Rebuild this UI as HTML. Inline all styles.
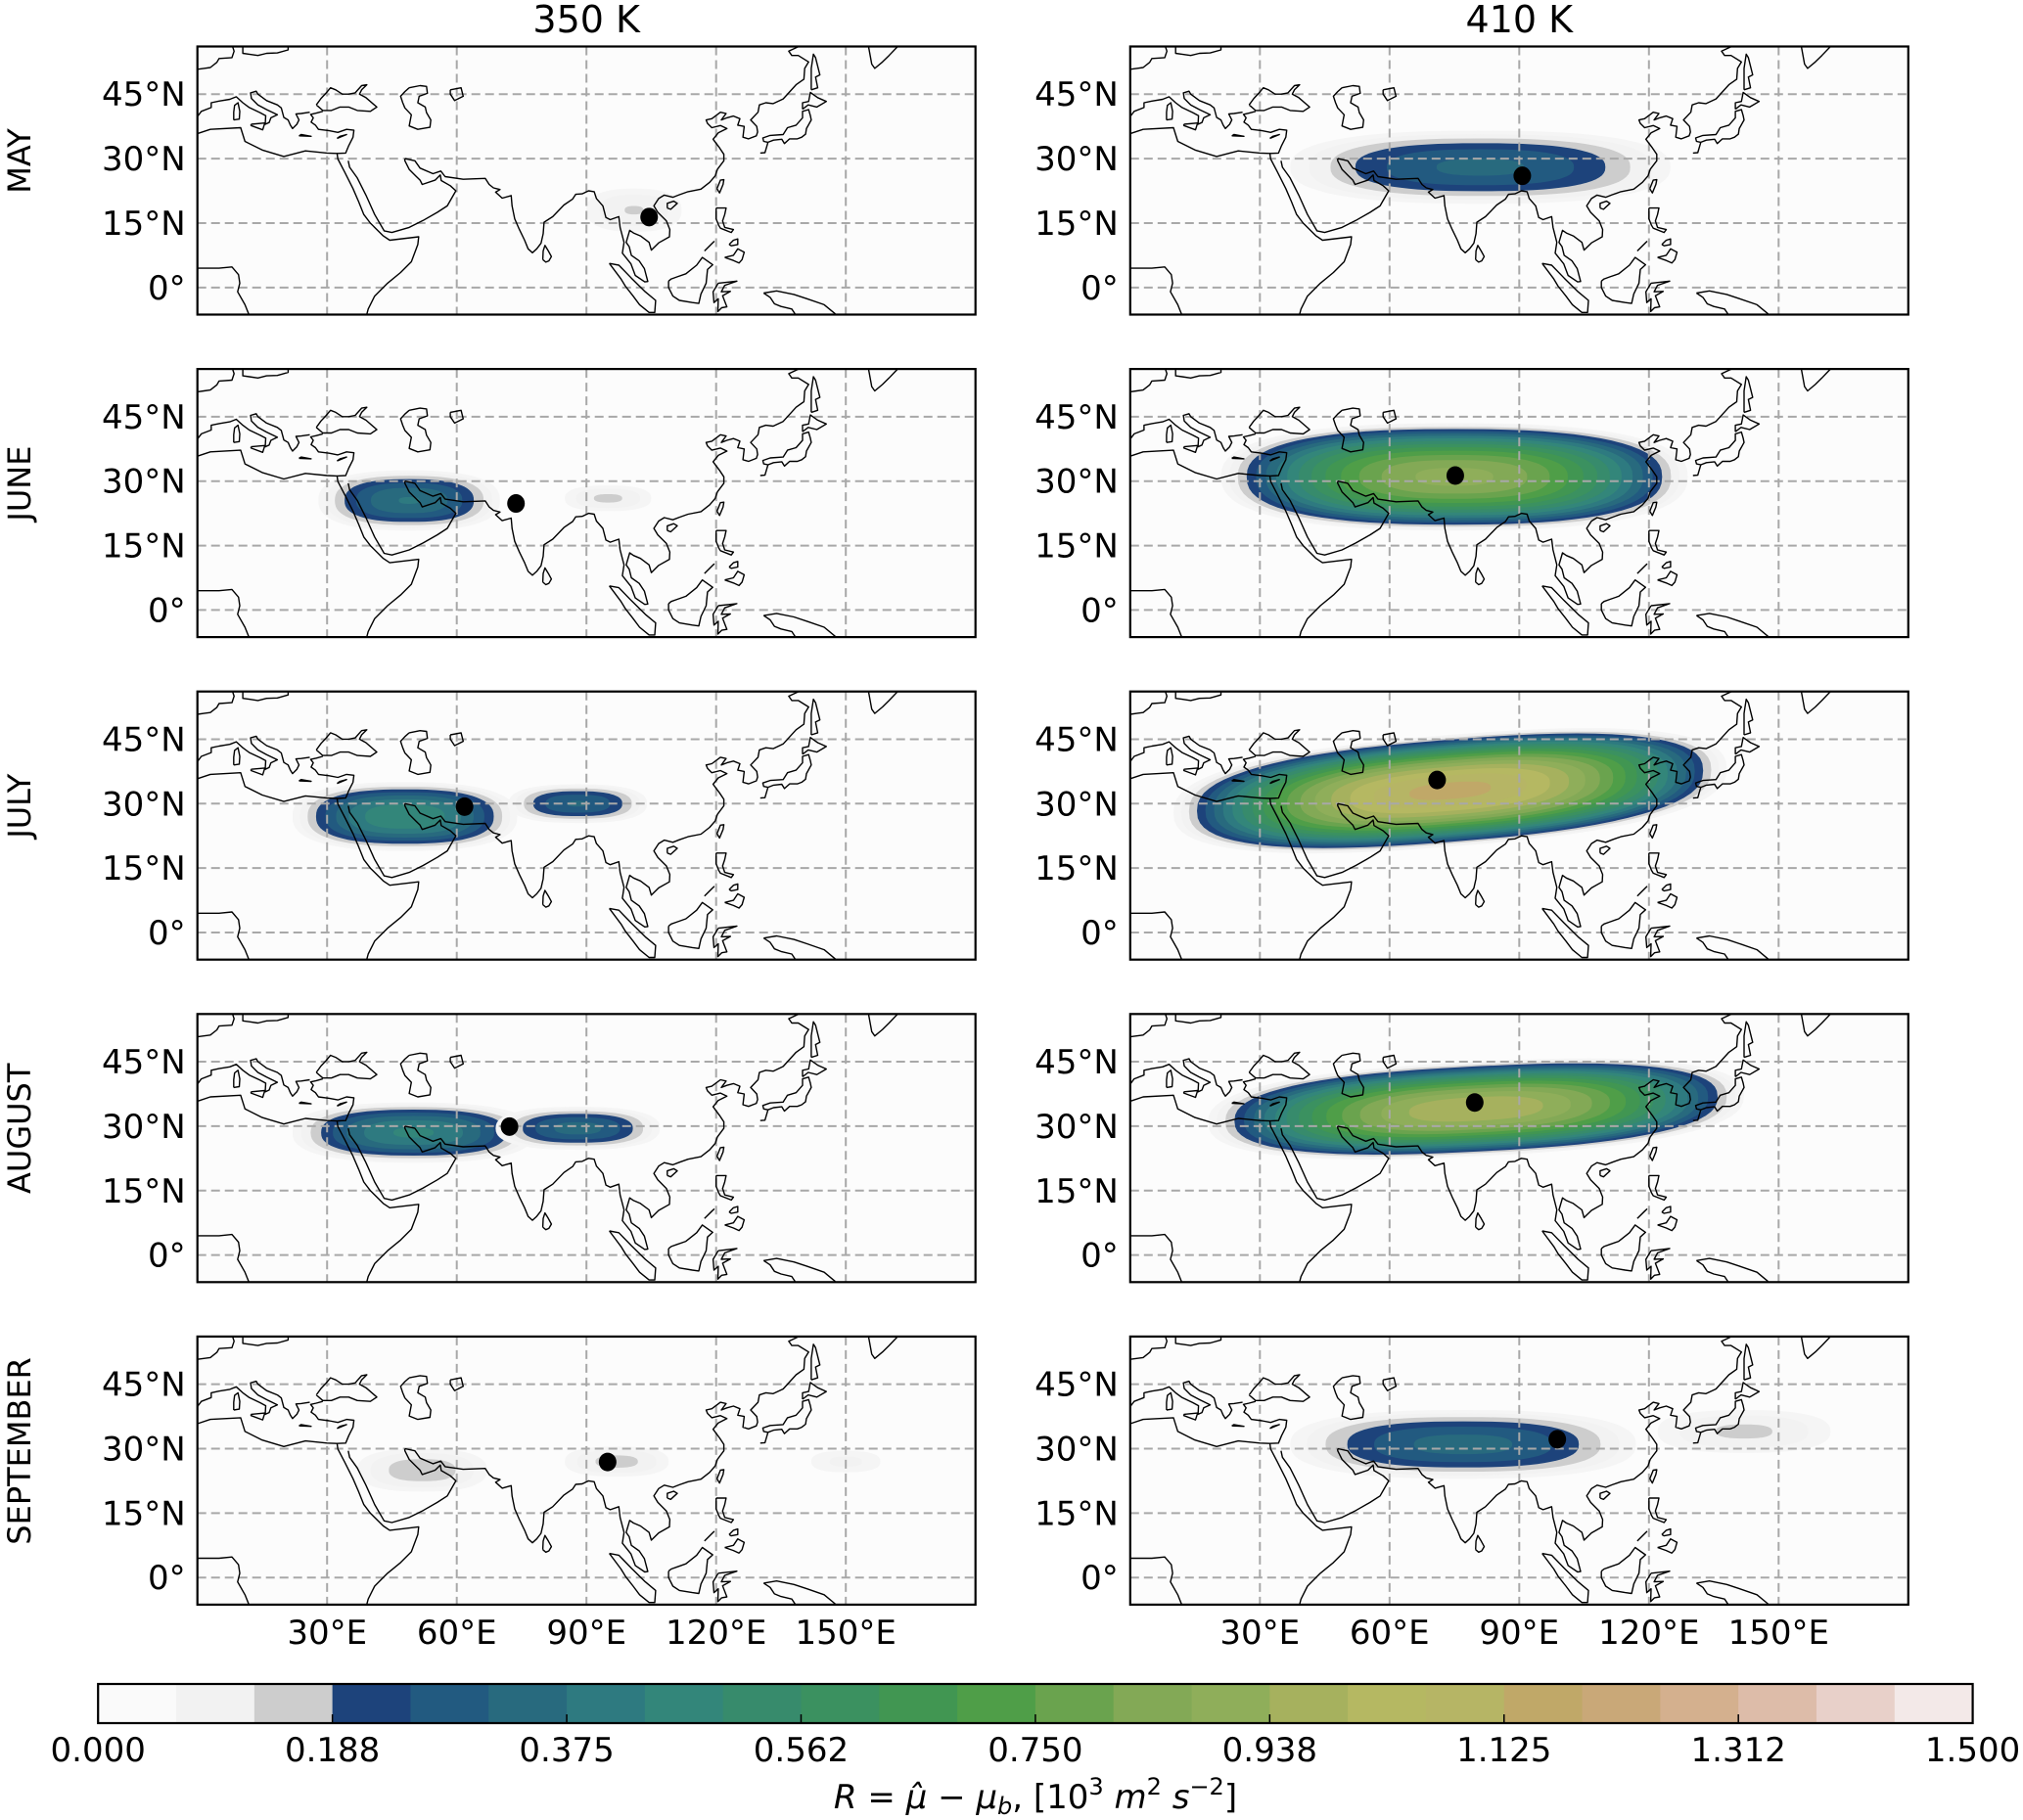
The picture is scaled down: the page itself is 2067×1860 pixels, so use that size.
<!DOCTYPE html>
<html><head><meta charset="utf-8">
<style>
html,body{margin:0;padding:0;background:#fff;}
svg{display:block;font-family:"DejaVu Sans","Liberation Sans",sans-serif;}
</style></head>
<body>
<svg id="fig" width="2067" height="1860" viewBox="0 0 2067 1860" xmlns="http://www.w3.org/2000/svg"></svg>
<script>
// ---- data ----
const months = ["MAY","JUNE","JULY","AUGUST","SEPTEMBER"];
const levels = ["350 K","410 K"];
const xTickLons = [30,60,90,120,150];
const xTickLabels = ["30°E","60°E","90°E","120°E","150°E"];
const yTickLats = [0,15,30,45];
const yTickLabels = ["0°","15°N","30°N","45°N"];
const cbTicks = ["0.000","0.188","0.375","0.562","0.750","0.938","1.125","1.312","1.500"];
const cbColors = ["#fafafa","#f2f2f2","#cdcdcd","#1d437b","#225a80","#286a7e","#2e7a80","#33867a","#378b6c","#3b9160","#419652","#4f9e48","#6aa34e","#83a956","#8fae5a","#a6b15e","#b5b862","#b6b565","#c0a868","#c9a878","#d4b08e","#ddbca9","#e8d0c9","#f3e9e8"];
// blobs per panel: [lon, lat, rLon, rLat, peak, slope(lat per lon)]
const blobs350 = [
 [[101,18,11,5,0.13,0]],
 [[49,25.5,21,7,0.38,0],[95,26,10,3,0.14,0]],
 [[48,27,26,8,0.5,0],[88,30,16,4.5,0.32,0]],
 [[50,28.5,28,7,0.45,0],[88,29.5,19,5,0.34,0]],
 [[52,25,15,5,0.17,0],[97,27,12,3.5,0.15,0],[150,27,8,2.5,0.08,0]]
];
const blobs410 = [
 [[81,28,44,8.5,0.33,0]],
 [[75,31,54,12.5,0.9,0]],
 [[74,33,64,13,1.15,0.08]],
 [[80,34,62,11,1.0,0.05]],
 [[77,31,40,8,0.34,0],[142,34,20,5,0.14,0]]
];
const dots350 = [[104.5,16.4],[73.7,24.8],[61.8,29.3],[72.2,29.9],[94.9,26.9]];
const dots410 = [[90.7,26],[75.2,31.3],[71,35.5],[79.7,35.5],[98.8,32.2]];

const coasts = [
 [[0,35.8],[3,36.8],[10,37.2],[11,34],[15,32],[20,30.5],[25,31.8],[30,31.3],[32.3,31.2],[32.5,29.9],[34,27],[36,23],[37.3,20],[38.5,17],[40,15],[43,12],[44.5,11],[51.2,11.8],[51,10],[49.5,6],[47,3.5],[44,1],[41,-2],[39.5,-5],[39,-7]],
 [[0,4.5],[5,4.5],[8,4.8],[9.5,3],[9.8,1],[9.3,-1],[11,-4],[12,-6.5]],
 [[32.3,31.2],[34.3,31.3],[35,33],[36,35],[36.2,36.6],[34.5,36.8],[32.5,36.1],[30.5,36.5],[28,36.8],[27.3,37.8],[26.3,38.5],[26.8,39.5],[26.2,40.3],[27.5,40.6],[29,41]],
 [[34.9,29.5],[35.2,28],[37,25.5],[39,21.5],[41,17],[43.2,13.2],[45,12.8],[49,14],[52.2,15.6],[55.5,17.5],[57.8,19],[59.8,22.5],[58.5,23.7],[56.4,24.9],[56.2,26.2],[55,25],[52,24],[51.5,25],[50.5,26],[49,27.5],[48,29.5],[48,30]],
 [[48,30],[50.3,29.5],[51.5,27.8],[54.5,26.5],[56.3,27.1],[57.3,25.8],[61.5,25.2],[66.6,25.4],[67.5,24],[68.5,23.2],[70,22.8],[69,22.2],[70.5,20.8],[72.6,21.4],[72.8,19],[73.4,16],[74.5,13.5],[75.7,11],[76.5,9],[77.5,8.1],[78.5,9],[79.5,10.3],[80,12.5],[80.2,15.2],[82.2,16.5],[84.8,19.2],[86.8,20.6],[87.5,21.7],[89,21.8],[90.5,22.5],[91.8,22.3],[92.3,20.7],[93.8,19],[94.5,16.3],[95.5,15.8],[97.5,16.5],[97.8,14],[98.7,10.5],[98.3,8],[100.3,5.5],[101.3,2.8],[103.5,1.3],[104.2,1.4],[103.4,4.4],[102.2,6.2],[100.4,7.5],[99.9,9.5],[99.2,10.5],[100,13.3],[100.9,12.7],[102.5,12],[104.5,10.5],[105,8.7],[106.7,10.4],[109.2,11.8],[109.3,13.5],[108.5,15.5],[106.5,17.5],[105.6,19],[106.7,20.7],[108,21.5],[110,21],[111.5,21.6],[113.5,22.3],[116.5,22.9],[118.5,24.5],[119.8,26],[120.3,27.5],[121.8,29.5],[121.8,31],[120.8,32.5],[119.3,34.5],[120.5,36],[122.5,37],[121,37.7],[119,37.2],[118,38.2],[117.7,39],[119,39.3],[121,40.8],[122.3,40.5],[121.2,39],[122.5,39.5],[124,39.9],[125.5,39.3],[125,37.8],[126.5,37.5],[126.2,35],[127.5,34.6],[129.3,35.3],[129.6,36.2],[129.4,37.5],[128,39],[129.7,40.8],[130,42.5],[131.5,43],[133.2,42.8],[135.5,43.9],[138.5,47.2],[140.3,48.5],[140.5,51],[141.4,52.5],[139,54],[137.5,54],[136.8,55],[140,56.5]],
 [[155,57.5],[156,52],[156.7,51],[158.5,52.5],[160,54],[162,56.1]],
 [[79.9,6.5],[80,8.5],[80.4,9.8],[81.2,8.5],[81.9,7.2],[81.3,6.2],[80.6,5.9],[79.9,6.5]],
 [[108.7,18.5],[109.5,18.2],[111,19.6],[110.2,20.1],[108.7,19.6],[108.7,18.5]],
 [[120.2,23],[120.8,22],[121.6,24],[121.8,25.1],[121,25],[120.2,23]],
 [[130.2,31.3],[131.3,31.4],[132,33.8],[131,34],[130.8,34.8],[132.5,35.4],[135.5,35.6],[136.5,37.2],[138.5,37.8],[140,39.5],[140,41],[141.4,41.4],[141.8,40],[142,39],[140.9,37],[140.7,35.7],[139.8,35],[138.8,34.6],[137,34.6],[135.8,33.5],[135.2,34.5],[133.3,34.3],[132,33.8]],
 [[140,41.5],[140,43],[141.4,43.3],[141.8,45.4],[143.5,44.2],[145.5,43.3],[143.3,42],[141.3,42.5],[140,41.5]],
 [[142,46],[143.5,46.5],[143,49],[144,49.5],[143,53.5],[142.5,54.3],[142,51],[142,46]],
 [[120,18.5],[122.3,18.5],[122,17],[121.5,15.5],[122,14],[124,13.5],[123.5,12.8],[121,13.8],[120.6,14.5],[120,16],[120,18.5]],
 [[122,7],[124,7.5],[125,9],[126.5,8.2],[126,6.5],[125.3,5.7],[124,6.3],[122,7]],
 [[123,10],[124,11],[125,11.3],[125,10],[123.5,9.7],[123,10]],
 [[117.3,8.5],[119.5,10.7],[119,10.2],[117.3,8.5]],
 [[109,1.5],[109.6,2],[111,2.5],[113,3.2],[115.5,5.2],[116.8,7],[119.2,5.3],[118,4.2],[117.7,1],[116.5,-1.5],[116,-3.7],[114.5,-3.5],[111.5,-3],[110,-2],[109,0],[109,1.5]],
 [[95.3,5.6],[97.5,5.2],[100.4,2.2],[103.6,-1],[106,-3],[105.8,-5.8],[104.5,-5.8],[102.3,-4],[100.8,-2],[99,0.3],[98,2],[95.3,5.6]],
 [[120.5,1],[124.8,1.5],[122,0.5],[121.2,-1],[123.3,-0.9],[121.5,-1.9],[122.5,-4.5],[121.3,-4.7],[120.4,-5.6],[120.5,-2.6],[119.5,-3.5],[119.3,-1],[120.5,1]],
 [[105.3,-6.8],[108,-6.4],[111,-6.5],[114.5,-7.7]],
 [[131,-1.3],[134,-0.8],[138,-1.6],[141,-2.6],[145,-4],[147.5,-6.1],[147,-6.8]],
 [[131,-1.3],[132.5,-2.3],[133.5,-3.8],[135,-4.4],[137.5,-5],[138.5,-6.5]],
 [[27.5,42.5],[28.6,44],[29.7,45.2],[30.8,46.5],[32,46],[33.5,45],[35,45],[36.5,45.3],[38,47],[39.2,47.2],[38,46],[37.5,45],[39,44.2],[41.5,42],[40,41],[37,41.2],[35,42],[33,42],[31,41.2],[29,41.2],[27.5,42.5]],
 [[49,46.5],[51.5,47],[53,46.8],[53.2,45.2],[51.3,44.5],[51,43],[52.7,42],[53,40.7],[54,39],[53.8,37.3],[51,36.8],[49,37.6],[49.5,40.2],[48,41.8],[47.5,43],[47,44.5],[48,45.6],[49,46.5]],
 [[58.5,46],[61,46.5],[61.5,44.5],[59.5,43.5],[58.5,45],[58.5,46]],
 [[26,40.8],[24,40.5],[22.8,40.4],[23.5,39],[23,38],[22,37],[21.5,37.8],[21,39],[20,39.6],[19.4,41.8],[18.5,42.5],[16,43.5],[14,45],[13.6,45.7],[12.3,45.3],[12.5,44],[14,42.5],[16,41.4],[18.5,40.2],[17,39.5],[16.6,38.4],[15.7,38],[15.8,40],[14.5,40.7],[12,41.9],[10.5,43],[9,44.4],[7.5,43.8],[5,43.4],[3.2,43],[3.2,41.9],[0.9,41],[0,39.8]],
 [[12.4,38],[15.6,38.3],[15.1,36.7],[12.4,37.7],[12.4,38]],
 [[8.4,39],[9.7,39.2],[9.8,41],[9.4,43],[8.6,42.4],[8.4,40.8],[8.4,39]],
 [[23.5,35.3],[26.3,35.2],[24,35.6],[23.5,35.3]],
 [[32.3,34.7],[34.5,35.6],[33,35.2],[32.3,34.7]],
 [[0,50.8],[1.5,51],[3,51.2],[4.5,52.4],[5,53.3],[8,53.5],[8.5,55],[8,56.5]],
 [[10.5,56.5],[10.5,54.5],[12,54.3],[14,54],[16,54.5],[18.5,54.6],[21,55.3],[21,56.5]]
];

// ---- layout ----
const NS = "http://www.w3.org/2000/svg";
const svg = document.getElementById("fig");
const colX = [201.7, 1154.8], PW = 795, PH = 274;
const rowY = [47.5, 377.1, 706.7, 1036.3, 1365.9];
const LAT_TOP = 56.1, LAT_RANGE = 62.4;
function mk(tag, attrs, parent){ const e=document.createElementNS(NS,tag); for(const k in attrs) e.setAttribute(k,attrs[k]); (parent||svg).appendChild(e); return e; }
function xScale(c, lon){ return colX[c] + lon/180*PW; }
function yScale(r, lat){ return rowY[r] + (LAT_TOP-lat)/LAT_RANGE*PH; }
const step = 1.5/cbColors.length;
const SE_N = 2.5;
function blobPath(c, r, lon, lat, rl, rt, slope){
  let d = "";
  for (let k=0;k<=72;k++){
    const a = k/72*2*Math.PI;
    const ca = Math.cos(a), sa = Math.sin(a);
    const dx = rl*Math.sign(ca)*Math.pow(Math.abs(ca),2/SE_N);
    const dy = rt*Math.sign(sa)*Math.pow(Math.abs(sa),2/SE_N);
    const X = xScale(c, lon+dx), Y = yScale(r, lat+dy+slope*dx);
    d += (k===0?"M":"L")+X.toFixed(1)+","+Y.toFixed(1);
  }
  return d+"Z";
}

const defs = mk("defs",{});
for (let c=0;c<2;c++){
  const t = mk("text",{x:colX[c]+PW/2, y:33, "text-anchor":"middle","font-size":38,fill:"#000"});
  t.textContent = levels[c];
  
  
  for (let r=0;r<5;r++){
    const id = "clip"+c+"_"+r;
    const cp = mk("clipPath",{id:id},defs);
    mk("rect",{x:colX[c],y:rowY[r],width:PW,height:PH},cp);
    const g = mk("g",{"clip-path":"url(#"+id+")"});
    
    
    mk("rect",{x:colX[c],y:rowY[r],width:PW,height:PH,fill:"#fcfcfc"},g);
    const bl = (c===0?blobs350:blobs410)[r];
    bl.forEach(b=>{
      const [lon,lat,rl,rt,peak,slope] = b;
      for (let i=0;i<cbColors.length;i++){
        const t0 = i*step;
        if (t0 >= peak) break;
        const f = Math.sqrt(1 - t0/peak);
        const fillCol = (i===0) ? "#f5f5f5" : cbColors[i];
        const e = mk("path",{d:blobPath(c,r,lon,lat,rl*f,rt*f,slope),fill:fillCol},g);
        
        
      }
    });
    xTickLons.forEach(lon=>{ mk("line",{x1:xScale(c,lon),x2:xScale(c,lon),y1:rowY[r],y2:rowY[r]+PH,stroke:"#a8a8a8","stroke-width":2,"stroke-dasharray":"9,5"},g); });
    yTickLats.forEach(lat=>{ mk("line",{x1:colX[c],x2:colX[c]+PW,y1:yScale(r,lat),y2:yScale(r,lat),stroke:"#a8a8a8","stroke-width":2,"stroke-dasharray":"9,5"},g); });
    coasts.forEach(pl=>{
      const pts = pl.map(p=>xScale(c,p[0]).toFixed(1)+","+yScale(r,p[1]).toFixed(1)).join(" ");
      mk("polyline",{points:pts,fill:"none",stroke:"#000","stroke-width":1.4,"stroke-linejoin":"round"},g);
    });
    const d = (c===0?dots350:dots410)[r];
    const dot = mk("ellipse",{cx:xScale(c,d[0]),cy:yScale(r,d[1]),rx:9,ry:9.5,fill:"#000"},g);
    
    
    const fr = mk("rect",{x:colX[c],y:rowY[r],width:PW,height:PH,fill:"none",stroke:"#000","stroke-width":2.2});
    
    
    yTickLats.forEach((lat,i)=>{
      const tl = mk("text",{x:colX[c]-12,y:yScale(r,lat)+12,"text-anchor":"end","font-size":34,fill:"#000"});
      tl.textContent = yTickLabels[i];
      
      
    });
    if (c===0){
      const cy = rowY[r]+PH/2 - 20;
      const rl = mk("text",{x:0,y:0,"text-anchor":"middle","font-size":32,fill:"#000",transform:"translate(31 "+cy+") rotate(-90)"});
      rl.textContent = months[r];
      
      
    }
  }
  xTickLons.forEach((lon,i)=>{
    const tl = mk("text",{x:xScale(c,lon),y:rowY[4]+PH+40,"text-anchor":"middle","font-size":34,fill:"#000"});
    tl.textContent = xTickLabels[i];
    
    
  });
}

// ---- colorbar ----
const cbX = 100.2, cbW = 1915.4, cbY = 1721, cbH = 40;
const cbg = mk("g",{});


cbColors.forEach((col,i)=>{
  mk("rect",{x:cbX+i*cbW/cbColors.length,y:cbY,width:cbW/cbColors.length+0.6,height:cbH,fill:col},cbg);
});
mk("rect",{x:cbX,y:cbY,width:cbW,height:cbH,fill:"none",stroke:"#000","stroke-width":2.2},cbg);
cbTicks.forEach((lab,i)=>{
  const x = cbX + i*cbW/(cbTicks.length-1);
  mk("line",{x1:x,x2:x,y1:cbY+cbH-9,y2:cbY+cbH,stroke:"#000","stroke-width":1.5},cbg);
  const tl = mk("text",{x:x,y:1800,"text-anchor":"middle","font-size":34,fill:"#000"},cbg);
  tl.textContent = lab;
  
  
});
const cl = mk("text",{x:1058,y:1848,"text-anchor":"middle","font-size":34,fill:"#000"});


cl.innerHTML = '<tspan font-style="italic">R</tspan> = <tspan font-style="italic">μ̂</tspan> − <tspan font-style="italic">μ</tspan><tspan font-style="italic" font-size="24" dy="6">b</tspan><tspan dy="-6">, [10</tspan><tspan font-size="24" dy="-14">3</tspan><tspan dy="14" font-style="italic"> m</tspan><tspan font-size="24" dy="-14">2</tspan><tspan dy="14" font-style="italic"> s</tspan><tspan font-size="24" dy="-14">−2</tspan><tspan dy="14">]</tspan>';
</script>
</body></html>
